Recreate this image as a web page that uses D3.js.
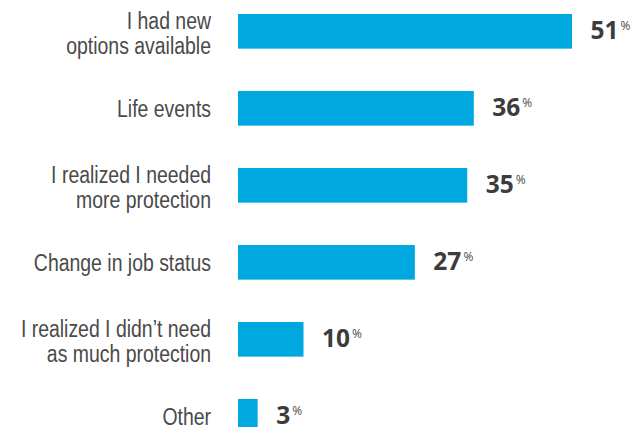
<!DOCTYPE html>
<html>
<head>
<meta charset="utf-8">
<script src="https://cdn.jsdelivr.net/npm/d3@7"></script>
<style>
  html, body { margin: 0; padding: 0; background: #fff; }
  svg { display: block; }
  .cat { font-family: "Liberation Sans", Arial, sans-serif; font-size: 24px; fill: #4a4a4a; }
  .val { font-family: "Open Sans", "Lato", sans-serif; font-weight: 700; font-size: 24.5px; fill: #3c3c3c; }
  .pct { font-family: "Open Sans", "Lato", sans-serif; font-weight: 400; font-size: 12px; fill: #4a4a4a; }
</style>
</head>
<body>
<script>
// Reasons for changing coverage (share of respondents, %)
const categories = [
  "I had new\noptions available",
  "Life events",
  "I realized I needed\nmore protection",
  "Change in job status",
  "I realized I didn’t need\nas much protection",
  "Other"
];
const values = [51, 36, 35, 27, 10, 3];

const width = 644, height = 427;
const barColor = "#00a8e0";
const labelRight = 211;
const condense = 0.81; // narrow the sans face to a condensed look

const svg = d3.select("body").append("svg")
  .attr("width", width)
  .attr("height", height);

const x = d3.scaleLinear().domain([0, 100]).range([238, 893]);
const y = d3.scaleBand()
  .domain(categories)
  .range([14, 14 + 77 * (categories.length - 0.55)])
  .paddingInner(0.55)
  .paddingOuter(0);

const rows = categories.map((c, i) => ({ cat: c, value: values[i] }));

// Bars
svg.append("g").selectAll("rect")
  .data(rows)
  .join("rect")
  .attr("x", x(0))
  .attr("y", d => y(d.cat))
  .attr("width", d => x(d.value) - x(0))
  .attr("height", y.bandwidth())
  .attr("fill", barColor);

// Category labels, right-aligned left of the bars
svg.append("g").selectAll("g")
  .data(rows)
  .join("g")
  .each(function (d) {
    const lines = d.cat.split("\n");
    const cy = y(d.cat) + y.bandwidth() / 2;
    const g = d3.select(this);
    const base = lines.length === 1 ? [cy + 9] : lines.map((_, k) => cy - 2.5 + k * 25.5);
    lines.forEach((ln, k) => {
      g.append("text")
        .attr("class", "cat")
        .attr("text-anchor", "end")
        .attr("transform", `translate(${labelRight},${base[k]}) scale(${condense},1)`)
        .text(ln);
    });
  });

// Value labels with a small superscript percent sign
svg.append("g").selectAll("g")
  .data(rows)
  .join("g")
  .each(function (d) {
    const g = d3.select(this);
    const cy = y(d.cat) + y.bandwidth() / 2;
    const tx = x(d.value) + 18.5;
    const num = g.append("text")
      .attr("class", "val")
      .attr("x", tx)
      .attr("y", cy + 7.5)
      .text(d.value);
    const w = num.node().getComputedTextLength();
    g.append("text")
      .attr("class", "pct")
      .attr("x", tx + w + 2)
      .attr("y", cy - 1.5)
      .text("%");
  });
</script>
</body>
</html>
